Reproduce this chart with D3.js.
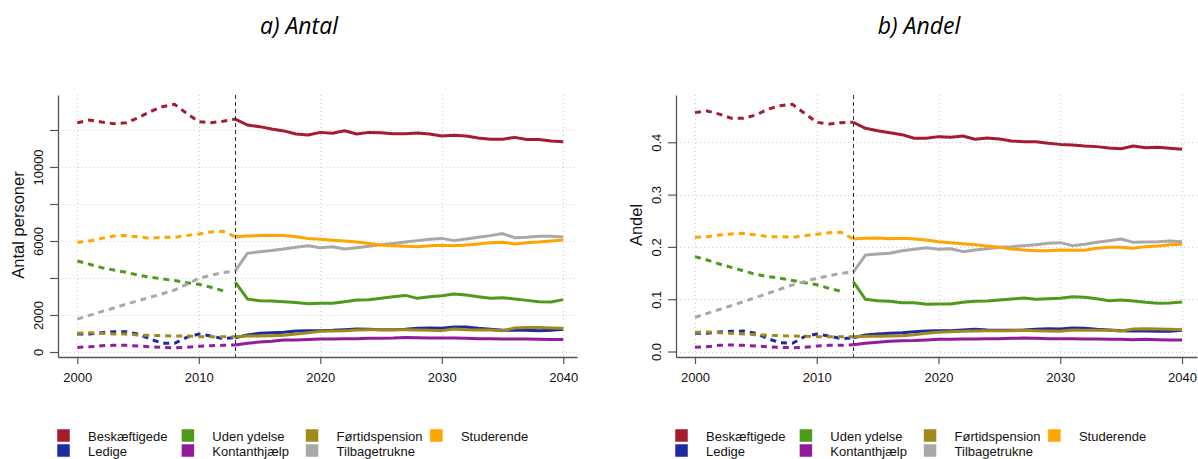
<!DOCTYPE html>
<html>
<head>
<meta charset="utf-8">
<script src="https://cdn.jsdelivr.net/npm/d3@7"></script>
<style>
  body { margin: 0; background: #fff; }
  svg { display: block; }
</style>
</head>
<body>
<svg id="chart" width="1198" height="459"></svg>
<script>
// Years: registered history and projection (overlapping in the base year 2013)
const histYears = [2000,2001,2002,2003,2004,2005,2006,2007,2008,2009,2010,2011,2012,2013];
const projYears = [2013,2014,2015,2016,2017,2018,2019,2020,2021,2022,2023,2024,2025,2026,2027,
                   2028,2029,2030,2031,2032,2033,2034,2035,2036,2037,2038,2039,2040];
const baseYear = 2013;

const seriesNames  = ["Beskæftigede","Ledige","Uden ydelse","Kontanthjælp","Førtidspension","Tilbagetrukne","Studerende"];
const seriesColors = ["#A51C30","#1C2BA0","#4E9A1A","#921C9A","#A08A1C","#A8A8A8","#FFA500"];

const xTicks = [2000,2010,2020,2030,2040];
const antalTicks = [0,2000,4000,6000,8000,10000,12000];
const antalTickLabels = ["0","2000","","6000","","10000",""];
const andelTicks = [0,0.1,0.2,0.3,0.4];
const andelTickLabels = ["0.0","0.1","0.2","0.3","0.4"];

// a) Antal personer
const antalBeskHist = [12390,12540,12430,12340,12390,12660,12990,13260,13390,12900,12450,12390,12470,12590];
const antalLedHist  = [970,970,1045,1100,1100,970,700,470,470,790,970,865,720,775];
const antalUdenHist = [4920,4740,4560,4430,4310,4160,4040,3950,3860,3750,3660,3500,3310,null];
const antalKontHist = [250,280,340,360,360,325,280,250,230,250,305,340,360,380];
const antalFortHist = [1010,1045,1010,970,970,920,900,885,865,865,830,830,830,830];
const antalTilbHist = [1780,1980,2180,2380,2580,2770,2960,3150,3350,3660,3980,4150,4290,4380];
const antalStudHist = [5930,6000,6140,6270,6290,6230,6140,6200,6200,6290,6380,6490,6520,6230];

const antalBeskProj = [12590,12270,12180,12050,11950,11780,11730,11870,11820,11960,11780,11870,11850,11800,
                       11800,11840,11780,11675,11710,11675,11570,11500,11500,11600,11480,11480,11400,11370];
const antalLedProj  = [775,920,1010,1045,1065,1135,1155,1155,1170,1205,1240,1225,1205,1205,
                       1225,1280,1300,1280,1350,1350,1280,1225,1170,1190,1170,1155,1170,1225];
const antalUdenProj = [3780,2865,2775,2760,2720,2670,2610,2640,2640,2720,2810,2830,2900,2990,
                       3060,2900,2990,3045,3135,3080,2990,2900,2935,2865,2790,2720,2700,2830];
const antalKontProj = [380,470,540,580,650,650,670,700,700,720,720,740,740,757,
                       790,775,757,757,757,740,720,720,700,700,700,690,680,680];
const antalFortProj = [830,865,865,885,900,970,1045,1115,1135,1155,1190,1205,1205,1205,
                       1205,1190,1170,1155,1240,1205,1190,1190,1155,1300,1320,1320,1300,1280];
const antalTilbProj = [4380,5330,5420,5480,5570,5660,5745,5640,5690,5570,5640,5710,5800,5870,
                       5945,6020,6090,6140,6020,6110,6200,6290,6400,6180,6200,6250,6250,6220];
const antalStudProj = [6230,6270,6290,6310,6300,6230,6140,6090,6040,6000,5945,5870,5780,5745,
                       5710,5690,5745,5765,5745,5780,5840,5910,5930,5840,5910,5945,6000,6050];

// b) Andel af befolkningen
const andelBeskHist = [0.4567,0.4599,0.4538,0.4458,0.4458,0.4522,0.4634,0.4700,0.4726,0.4554,0.4383,0.4350,0.4375,0.4383];
const andelLedHist  = [0.0347,0.0347,0.0373,0.0386,0.0392,0.0347,0.0245,0.0169,0.0156,0.0284,0.0335,0.0296,0.0245,0.0264];
const andelUdenHist = [0.1813,0.1750,0.1673,0.1609,0.1539,0.1476,0.1430,0.1402,0.1358,0.1316,0.1276,0.1208,0.1150,null];
const andelKontHist = [0.0080,0.0092,0.0118,0.0124,0.0118,0.0105,0.0092,0.0080,0.0073,0.0080,0.0105,0.0118,0.0118,0.0131];
const andelFortHist = [0.0366,0.0373,0.0360,0.0347,0.0335,0.0322,0.0309,0.0303,0.0296,0.0290,0.0284,0.0284,0.0284,0.0284];
const andelTilbHist = [0.0653,0.0728,0.0803,0.0878,0.0953,0.1033,0.1113,0.1192,0.1272,0.1335,0.1399,0.1450,0.1495,0.1520];
const andelStudHist = [0.2183,0.2196,0.2228,0.2247,0.2259,0.2228,0.2196,0.2196,0.2183,0.2215,0.2240,0.2272,0.2279,0.2151];

const andelBeskProj = [0.4383,0.4267,0.4222,0.4184,0.4146,0.4076,0.4076,0.4108,0.4095,0.4120,0.4057,0.4082,0.4063,0.4025,
                       0.4012,0.4012,0.3980,0.3960,0.3948,0.3929,0.3917,0.3891,0.3878,0.3929,0.3897,0.3904,0.3885,0.3865];
const andelLedProj  = [0.0264,0.0315,0.0335,0.0347,0.0360,0.0379,0.0392,0.0398,0.0398,0.0411,0.0424,0.0411,0.0405,0.0405,
                       0.0411,0.0424,0.0437,0.0430,0.0449,0.0443,0.0424,0.0411,0.0398,0.0392,0.0392,0.0386,0.0386,0.0405];
const andelUdenProj = [0.1335,0.0997,0.0972,0.0959,0.0934,0.0934,0.0902,0.0908,0.0908,0.0940,0.0959,0.0966,0.0985,0.1004,
                       0.1023,0.0997,0.1010,0.1017,0.1048,0.1036,0.1010,0.0972,0.0985,0.0966,0.0940,0.0921,0.0927,0.0946];
const andelKontProj = [0.0131,0.0156,0.0175,0.0194,0.0207,0.0210,0.0220,0.0233,0.0233,0.0239,0.0239,0.0245,0.0245,0.0252,
                       0.0258,0.0252,0.0245,0.0245,0.0245,0.0239,0.0239,0.0233,0.0233,0.0226,0.0233,0.0226,0.0220,0.0220];
const andelFortProj = [0.0284,0.0290,0.0290,0.0296,0.0303,0.0322,0.0347,0.0366,0.0379,0.0386,0.0392,0.0398,0.0398,0.0398,
                       0.0405,0.0398,0.0392,0.0386,0.0411,0.0405,0.0405,0.0405,0.0392,0.0430,0.0437,0.0430,0.0424,0.0417];
const andelTilbProj = [0.1520,0.1845,0.1864,0.1877,0.1928,0.1953,0.1985,0.1953,0.1966,0.1909,0.1941,0.1966,0.1992,0.2005,
                       0.2024,0.2043,0.2068,0.2081,0.2024,0.2049,0.2087,0.2119,0.2151,0.2087,0.2094,0.2100,0.2113,0.2100];
const andelStudProj = [0.2151,0.2164,0.2171,0.2158,0.2164,0.2151,0.2132,0.2100,0.2081,0.2062,0.2043,0.2018,0.1992,0.1960,
                       0.1941,0.1928,0.1928,0.1941,0.1934,0.1934,0.1973,0.1992,0.1992,0.1973,0.2005,0.2018,0.2043,0.2049];

const panels = [
  {
    title: "a) Antal", yTitle: "Antal personer",
    left: 58, right: 577, xDomain: [1998.41, 2041.13], yDomain: [-270, 13890],
    ticks: antalTicks, tickLabels: antalTickLabels, titleX: 299, yTitleX: 24, legendX: 0,
    hist: [antalBeskHist, antalLedHist, antalUdenHist, antalKontHist, antalFortHist, antalTilbHist, antalStudHist],
    proj: [antalBeskProj, antalLedProj, antalUdenProj, antalKontProj, antalFortProj, antalTilbProj, antalStudProj]
  },
  {
    title: "b) Andel", yTitle: "Andel",
    left: 676, right: 1197, xDomain: [1998.44, 2041.23], yDomain: [-0.0105, 0.4904],
    ticks: andelTicks, tickLabels: andelTickLabels, titleX: 919, yTitleX: 642, legendX: 618,
    hist: [andelBeskHist, andelLedHist, andelUdenHist, andelKontHist, andelFortHist, andelTilbHist, andelStudHist],
    proj: [andelBeskProj, andelLedProj, andelUdenProj, andelKontProj, andelFortProj, andelTilbProj, andelStudProj]
  }
];

const plotTop = 95, plotBottom = 357;
const svg = d3.select("#chart");
const font = "'Liberation Sans', Arial, sans-serif";

panels.forEach(p => {
  const x = d3.scaleLinear().domain(p.xDomain).range([p.left, p.right]);
  const y = d3.scaleLinear().domain(p.yDomain).range([plotBottom, plotTop]);
  const g = svg.append("g");

  // dotted grid
  const grid = g.append("g").attr("stroke", "#cfcfcf").attr("stroke-width", 1)
    .attr("stroke-dasharray", "1,3").attr("fill", "none");
  grid.selectAll("line.h").data(p.ticks).join("line").attr("class", "h")
    .attr("x1", p.left).attr("x2", p.right)
    .attr("y1", d => Math.round(y(d)) + 0.5).attr("y2", d => Math.round(y(d)) + 0.5);
  grid.selectAll("line.v").data(xTicks).join("line").attr("class", "v")
    .attr("y1", plotTop).attr("y2", plotBottom)
    .attr("x1", d => Math.round(x(d)) + 0.5).attr("x2", d => Math.round(x(d)) + 0.5);

  // series lines: dashed history, solid projection
  const line = d3.line().defined(d => d[1] != null).x(d => x(d[0])).y(d => y(d[1]));
  seriesNames.forEach((name, i) => {
    g.append("path")
      .datum(histYears.map((yr, j) => [yr, p.hist[i][j]]))
      .attr("d", line).attr("fill", "none")
      .attr("stroke", seriesColors[i]).attr("stroke-width", 3)
      .attr("stroke-dasharray", "6,5");
    g.append("path")
      .datum(projYears.map((yr, j) => [yr, p.proj[i][j]]))
      .attr("d", line).attr("fill", "none")
      .attr("stroke", seriesColors[i]).attr("stroke-width", 3)
      .attr("stroke-linejoin", "round");
  });

  // start of projection
  g.append("line")
    .attr("x1", Math.round(x(baseYear)) + 0.5).attr("x2", Math.round(x(baseYear)) + 0.5)
    .attr("y1", plotTop).attr("y2", plotBottom)
    .attr("stroke", "#333").attr("stroke-width", 1).attr("stroke-dasharray", "4,3");

  // axes
  const xAxis = d3.axisBottom(x).tickValues(xTicks).tickFormat(d3.format("d"))
    .tickSize(7).tickSizeOuter(0).tickPadding(9);
  const gx = g.append("g").attr("transform", `translate(0,${plotBottom})`).call(xAxis);

  const yAxis = d3.axisLeft(y).tickValues(p.ticks)
    .tickFormat((d, i) => p.tickLabels[i]).tickSize(8).tickSizeOuter(0);
  const gy = g.append("g").attr("transform", `translate(${p.left},0)`).call(yAxis);
  gy.selectAll(".tick text")
    .attr("x", 0).attr("dy", 0).attr("text-anchor", "middle")
    .attr("transform", "translate(-15,0) rotate(-90)");

  [gx, gy].forEach(a => {
    a.select(".domain").attr("stroke", "#555").attr("stroke-width", 1.3);
    a.selectAll(".tick line").attr("stroke", "#555").attr("stroke-width", 1.2);
    a.selectAll(".tick text").attr("fill", "#111").style("font-family", font).style("font-size", "13px");
  });

  // axis title
  g.append("text")
    .attr("transform", `translate(${p.yTitleX},${(plotTop + plotBottom) / 2 - 1}) rotate(-90)`)
    .attr("text-anchor", "middle").attr("fill", "#111")
    .style("font-family", font).style("font-size", "16.5px")
    .text(p.yTitle);

  // panel title
  g.append("text")
    .attr("x", p.titleX).attr("y", 34).attr("text-anchor", "middle")
    .attr("fill", "#000").style("font-family", "'Open Sans', sans-serif")
    .style("font-style", "italic").style("font-size", "23px")
    .text(p.title);

  // legend: 4 columns x 2 rows, filled column by column
  const lg = g.append("g").attr("transform", `translate(${p.legendX},0)`);
  seriesNames.forEach((name, i) => {
    const col = Math.floor(i / 2), row = i % 2;
    const lx = 57 + col * 124.3, ly = 429 + row * 15;
    lg.append("rect").attr("x", lx).attr("y", ly).attr("width", 13).attr("height", 13)
      .attr("fill", seriesColors[i]).attr("stroke", "#fff").attr("stroke-width", 0.5);
    lg.append("text").attr("x", lx + 31).attr("y", ly + 11.5)
      .attr("fill", "#111").style("font-family", font).style("font-size", "13px")
      .text(name);
  });
});
</script>
</body>
</html>
